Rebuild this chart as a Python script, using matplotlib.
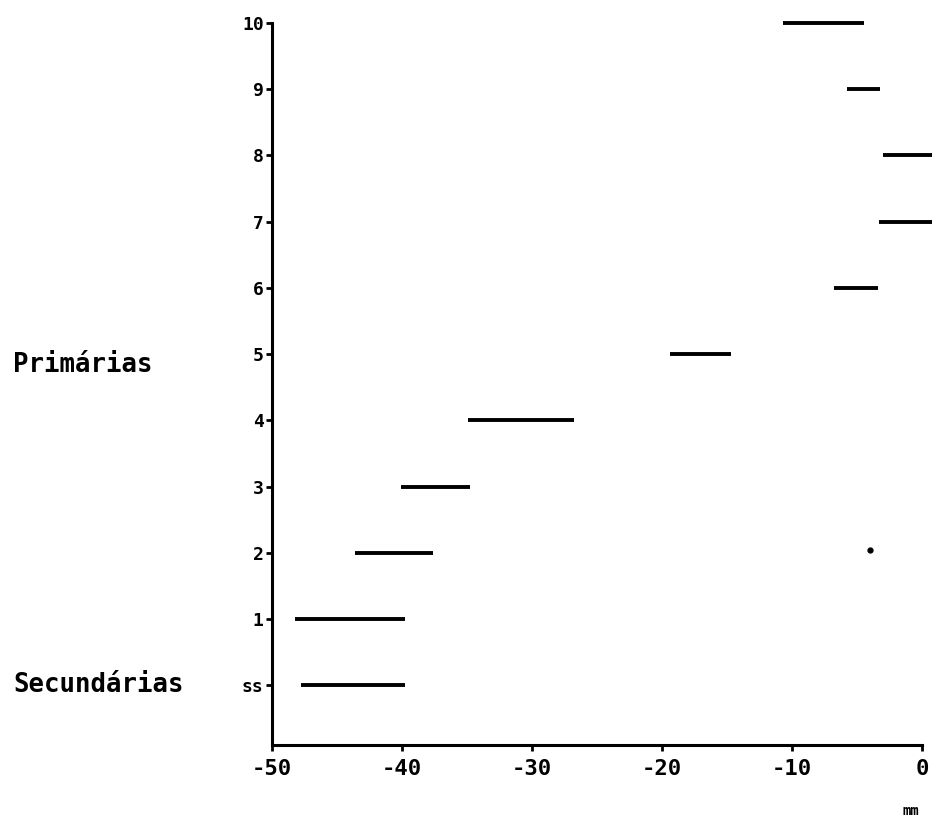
import matplotlib.pyplot as plt

# horizontal segments: row position, start (mm), end (mm)
rows = [0, 1, 2, 3, 4, 5, 6, 7, 8, 9, 10]
starts = [-47.8, -48.2, -43.6, -40.1, -34.9, -19.4, -6.8, -3.3, -3.0, -5.8, -10.7]
ends = [-39.8, -39.8, -37.6, -34.8, -26.8, -14.7, -3.4, 1.0, 1.0, -3.2, -4.5]

# single point near row 2
dot_x = [-4.0]
dot_y = [2.05]

row_labels = ['ss', '1', '2', '3', '4', '5', '6', '7', '8', '9', '10']
x_ticks = [-50, -40, -30, -20, -10, 0]
x_tick_labels = ['-50', '-40', '-30', '-20', '-10', '0']

mono = 'DejaVu Sans Mono'

fig = plt.figure(figsize=(9.32, 8.23), dpi=100)
ax = fig.add_axes([272 / 932, 1 - 745 / 823, 650 / 932, 722 / 823])

ax.hlines(rows, starts, ends, colors='black', linewidth=2.8, clip_on=False)
ax.plot(dot_x, dot_y, 'o', color='black', markersize=3.5, clip_on=False)

ax.set_xlim(-50, 0)
ax.set_ylim(-0.9, 10)
ax.set_xticks(x_ticks)
ax.set_xticklabels(x_tick_labels, fontfamily=mono, fontweight='bold', fontsize=16)
ax.set_yticks(rows)
ax.set_yticklabels(row_labels, fontfamily=mono, fontweight='bold', fontsize=13)
ax.tick_params(axis='x', direction='out', length=4, width=2, pad=6)
ax.tick_params(axis='y', direction='out', length=4, width=2, pad=2)

for side in ['top', 'right']:
    ax.spines[side].set_visible(False)
for side in ['left', 'bottom']:
    ax.spines[side].set_linewidth(2.2)

fig.text(13 / 932, 1 - 365 / 823, 'Primárias', fontfamily=mono, fontweight='bold',
         fontsize=18.5, va='center', ha='left')
fig.text(13 / 932, 1 - 685 / 823, 'Secundárias', fontfamily=mono, fontweight='bold',
         fontsize=18.5, va='center', ha='left')
fig.text(911 / 932, 1 - 811 / 823, 'mm', fontfamily=mono, fontweight='bold',
         fontsize=10, va='center', ha='center')

fig.savefig('out.png', dpi=100, facecolor='white')
